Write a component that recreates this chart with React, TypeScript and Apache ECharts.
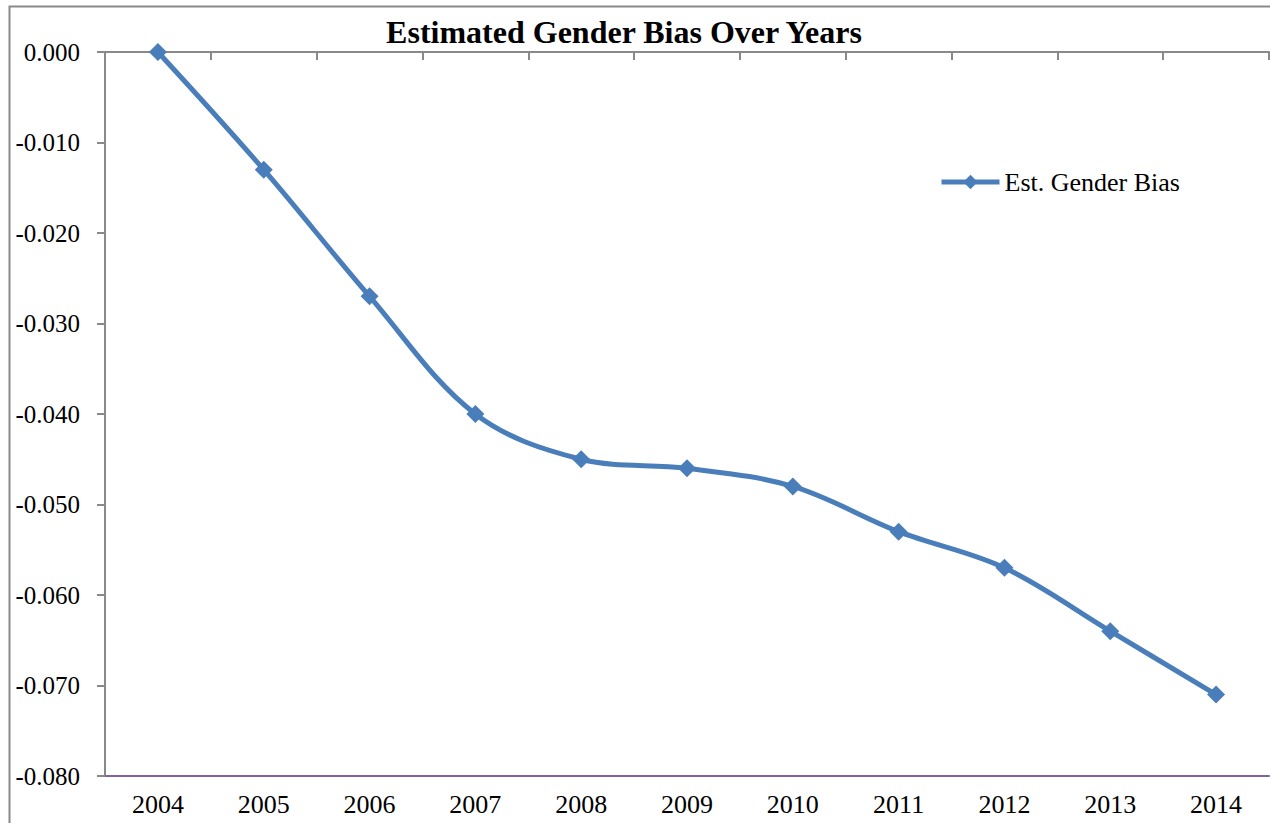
import React, { useEffect, useRef } from "react";
import * as echarts from "echarts";

// Years on the category axis
const years: string[] = ["2004", "2005", "2006", "2007", "2008", "2009", "2010", "2011", "2012", "2013", "2014"];

// Estimated gender bias per year
const genderBias: number[] = [0, -0.013, -0.027, -0.04, -0.045, -0.046, -0.048, -0.053, -0.057, -0.064, -0.071];

const seriesName = "Est. Gender Bias";
const titleText = "Estimated Gender Bias Over Years";

const FONT = "Liberation Serif";
const LINE_BLUE = "#4a7ebb";
const AXIS_GRAY = "#898989";

export default function App() {
  const ref = useRef<HTMLDivElement>(null);

  useEffect(() => {
    if (!ref.current) return;
    const chart = echarts.init(ref.current, null, { renderer: "svg" });
    chart.setOption({
      animation: false,
      backgroundColor: "#ffffff",
      textStyle: { fontFamily: FONT },
      title: {
        text: titleText,
        left: 619,
        textAlign: "center",
        top: 11,
        textStyle: { fontFamily: FONT, fontSize: 32, fontWeight: "bold", color: "#000" },
      },
      legend: {
        left: 934,
        top: 164,
        itemWidth: 58,
        itemHeight: 18,
        itemGap: 0,
        lineStyle: { width: 5 },
        textStyle: { fontFamily: FONT, fontSize: 26, color: "#000" },
        data: [seriesName],
      },
      graphic: [
        {
          type: "rect",
          shape: { x: 9.5, y: 6.5, width: 1400, height: 1000 },
          style: { fill: "none", stroke: AXIS_GRAY, lineWidth: 2 },
          silent: true,
        },
      ],
      grid: { left: 105, top: 52, right: 1, bottom: 47, containLabel: false },
      xAxis: [
        {
          type: "category",
          data: years,
          position: "bottom",
          boundaryGap: true,
          axisLine: { show: true, onZero: false, lineStyle: { color: "#8064a2", width: 2 } },
          axisTick: { show: false },
          axisLabel: { color: "#000", fontFamily: FONT, fontSize: 26, margin: 15 },
          splitLine: { show: false },
        },
        {
          type: "category",
          data: years,
          position: "top",
          boundaryGap: true,
          axisLine: { show: true, onZero: false, lineStyle: { color: AXIS_GRAY, width: 2 } },
          axisTick: { show: true, inside: true, length: 8, lineStyle: { color: AXIS_GRAY, width: 2 } },
          axisLabel: { show: false },
          splitLine: { show: false },
        },
      ],
      yAxis: {
        type: "value",
        min: -0.08,
        max: 0,
        interval: 0.01,
        axisLine: { show: true, onZero: false, lineStyle: { color: AXIS_GRAY, width: 2 } },
        axisTick: { show: true, length: 8, lineStyle: { color: AXIS_GRAY, width: 2 } },
        axisLabel: {
          color: "#000",
          fontFamily: FONT,
          fontSize: 25,
          margin: 25,
          formatter: (v: number) => v.toFixed(3),
        },
        splitLine: { show: false },
      },
      series: [
        {
          name: seriesName,
          type: "line",
          data: genderBias,
          xAxisIndex: 0,
          smooth: 0.35,
          symbol: "diamond",
          symbolSize: 18,
          lineStyle: { color: LINE_BLUE, width: 5 },
          itemStyle: { color: LINE_BLUE },
          z: 5,
        },
      ],
    });
    return () => chart.dispose();
  }, []);

  return (
    <div
      ref={ref}
      style={{ position: "fixed", left: 0, top: 0, width: 1270, height: 823 }}
    />
  );
}
